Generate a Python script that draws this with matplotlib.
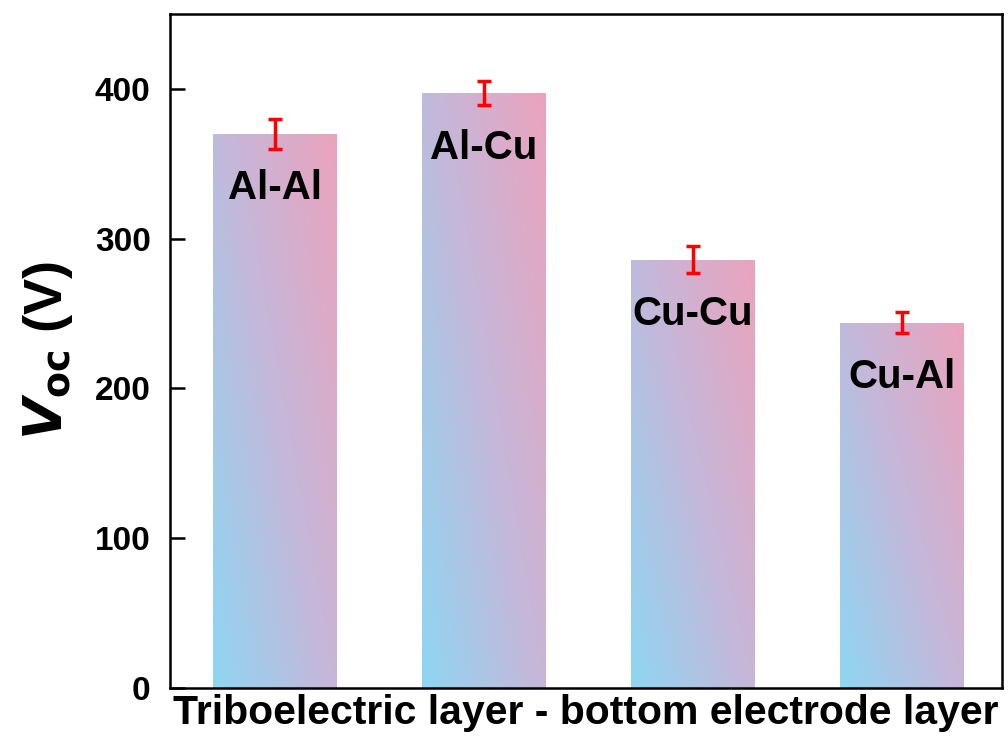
import numpy as np
import matplotlib
matplotlib.use('Agg')
import matplotlib.pyplot as plt
from matplotlib.colors import LinearSegmentedColormap
from matplotlib.patches import Rectangle

plt.rcParams['font.family'] = ['Liberation Sans', 'DejaVu Sans']
plt.rcParams['font.weight'] = 'bold'

# ── data ────────────────────────────────────────────────────────────────────
labels = ['Al-Al', 'Al-Cu', 'Cu-Cu', 'Cu-Al']
voc = [370, 397, 286, 244]
err = [10, 8, 9, 7]

x = np.arange(1, len(labels) + 1)
bar_w = 0.59

cmap = LinearSegmentedColormap.from_list('bp', ['#8ed6f2', '#c4b8da', '#eba3bd'])

fig = plt.figure(figsize=(10.08, 7.40), dpi=100)
ax = fig.add_axes([0.1687, 0.0703, 0.8253, 0.9107])

# gradient bars: blue bottom-left -> pink top-right
uu, vv = np.meshgrid(np.linspace(0, 1, 200), np.linspace(0, 1, 200))
grad = 0.55 * uu + 0.45 * vv
bars = ax.bar(x, voc, width=bar_w, color='none', edgecolor='none', zorder=1)
for b in bars:
    x0, y0 = b.get_x(), b.get_y()
    w, h = b.get_width(), b.get_height()
    im = ax.imshow(grad, cmap=cmap, vmin=0, vmax=1, origin='lower',
                   extent=[x0, x0 + w, y0, y0 + h], aspect='auto', zorder=1,
                   interpolation='bilinear')
    im.set_clip_path(Rectangle((x0, y0), w, h, transform=ax.transData))

ax.errorbar(x, voc, yerr=err, fmt='none', ecolor='#ff0000', elinewidth=2.5,
            capsize=5, capthick=2.5, zorder=3)

for xi, v, lab in zip(x, voc, labels):
    ax.annotate(lab, (xi, v), xytext=(0, -39), textcoords='offset points',
                ha='center', va='center', fontsize=29, fontweight='bold',
                zorder=4)

ax.set_xlim(0.5, 4.48)
ax.set_ylim(0, 450)
ax.set_yticks([0, 100, 200, 300, 400])
ax.set_xticks([])
ax.tick_params(axis='y', direction='in', length=11, width=1.8, labelsize=24, pad=14)
for lab in ax.get_yticklabels():
    lab.set_fontweight('bold')
for s in ax.spines.values():
    s.set_linewidth(1.8)

ax.set_xlabel('Triboelectric layer - bottom electrode layer', fontsize=29.4,
              fontweight='bold', labelpad=4)
ax.set_ylabel(r'$\boldsymbol{V}_{\mathbf{oc}}$ (V)', fontsize=39, fontweight='bold',
              labelpad=14)

fig.savefig('out.png', dpi=100)
